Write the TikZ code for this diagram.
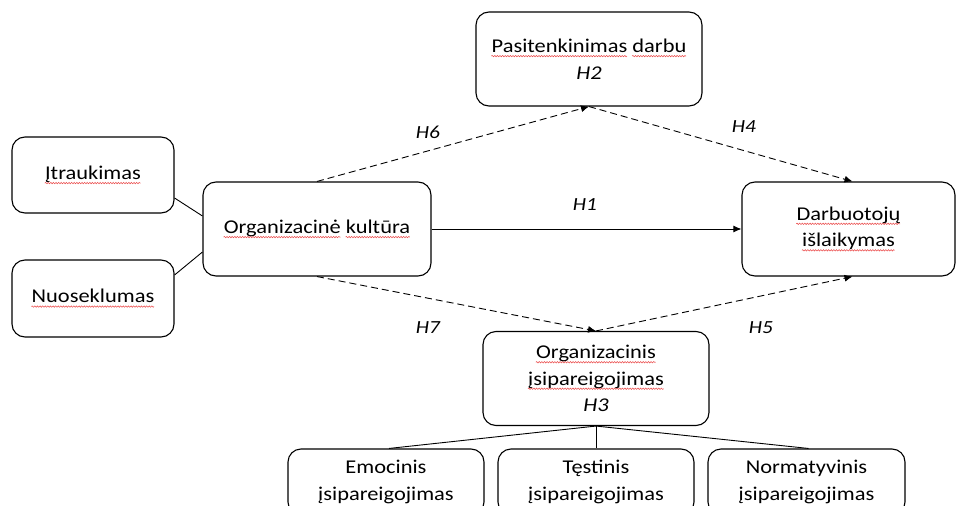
\documentclass[tikz,border=0pt]{standalone}
\usepackage{fontspec}
\setmainfont{Carlito}[FakeStretch=1.15]
\usetikzlibrary{arrows.meta,calc,decorations.pathmorphing}
\definecolor{squig}{RGB}{235,80,80}
\newlength\rwlen
\newcommand\rw[1]{\settowidth\rwlen{#1}#1\llap{\tikz[baseline=0pt,x=1pt,y=1pt]\draw[solid,line width=0.55pt,color=squig,rounded corners=0pt,decorate,decoration={snake,amplitude=0.7pt,segment length=2.6pt}] (0pt,-3.6pt) -- (\rwlen,-3.6pt);}}
\begin{document}
\begin{tikzpicture}[x=1pt,y=-1pt,
  box/.style={draw, line width=1.1pt, rounded corners=13pt, align=center,
    inner sep=0pt, font=\fontsize{19.5}{26.5}\selectfont},
  hyp/.style={font=\fontsize{18.5}{22}\selectfont\itshape, inner sep=0pt},
  link/.style={line width=0.9pt},
  dasharrow/.style={line width=0.9pt, dash pattern=on 7pt off 4pt, -{Latex[length=8pt,width=7pt]}},
  solidarrow/.style={line width=0.9pt, -{Latex[length=8pt,width=7pt]}}
]
\useasboundingbox (0,0) rectangle (959,506);
\clip (0,0) rectangle (959,506);
\node[box, minimum width=226pt, minimum height=94pt] (pas) at (589,59) {\rw{Pasitenkinimas} \rw{darbu}\\ \itshape H2};
\node[box, minimum width=162pt, minimum height=76pt] (itr) at (93,175) {\rw{Įtraukimas}};
\node[box, minimum width=162pt, minimum height=77pt] (nuo) at (93,298.5) {\rw{Nuoseklumas}};
\node[box, minimum width=228pt, minimum height=94pt] (ok) at (317,229) {\rw{Organizacinė} \rw{kultūra}};
\node[box, minimum width=213pt, minimum height=94pt] (dar) at (848.5,229) {\rw{Darbuotojų}\\\rw{išlaikymas}};
\node[box, minimum width=226pt, minimum height=94pt] (oi) at (596,378.5) {\rw{Organizacinis}\\\rw{įsipareigojimas}\\ \itshape H3};
\node[box, minimum width=196pt, minimum height=66pt] (emo) at (386,482) {Emocinis\\įsipareigojimas};
\node[box, minimum width=196pt, minimum height=66pt] (tes) at (596,482) {Tęstinis\\įsipareigojimas};
\node[box, minimum width=197pt, minimum height=66pt] (nor) at (806.5,482) {Normatyvinis\\įsipareigojimas};

\draw[link] ($(itr.east)+(0,23)$) -- ($(ok.west)+(0,-13)$);
\draw[link] ($(nuo.east)+(0,-23.5)$) -- ($(ok.west)+(0,23)$);

\draw[dasharrow] (ok.north) -- (pas.south);
\draw[dasharrow] (pas.south) -- ($(dar.north)+(4,0)$);
\draw[solidarrow] (ok.east) -- (dar.west);
\draw[dasharrow] (ok.south) -- (oi.north);
\draw[dasharrow] (oi.north) -- ($(dar.south)+(4,0)$);

\draw[link] (oi.south) -- ($(emo.north)+(3,0)$);
\draw[link] (oi.south) -- (tes.north);
\draw[link] (oi.south) -- ($(nor.north)+(2,0)$);

\node[hyp] (h6) at (428,132) {H6};
\node[hyp] (h4) at (744,127) {H4};
\node[hyp] (h1) at (585,205) {H1};
\node[hyp] (h7) at (428,328) {H7};
\node[hyp] (h5) at (761,328) {H5};
\end{tikzpicture}
\end{document}
